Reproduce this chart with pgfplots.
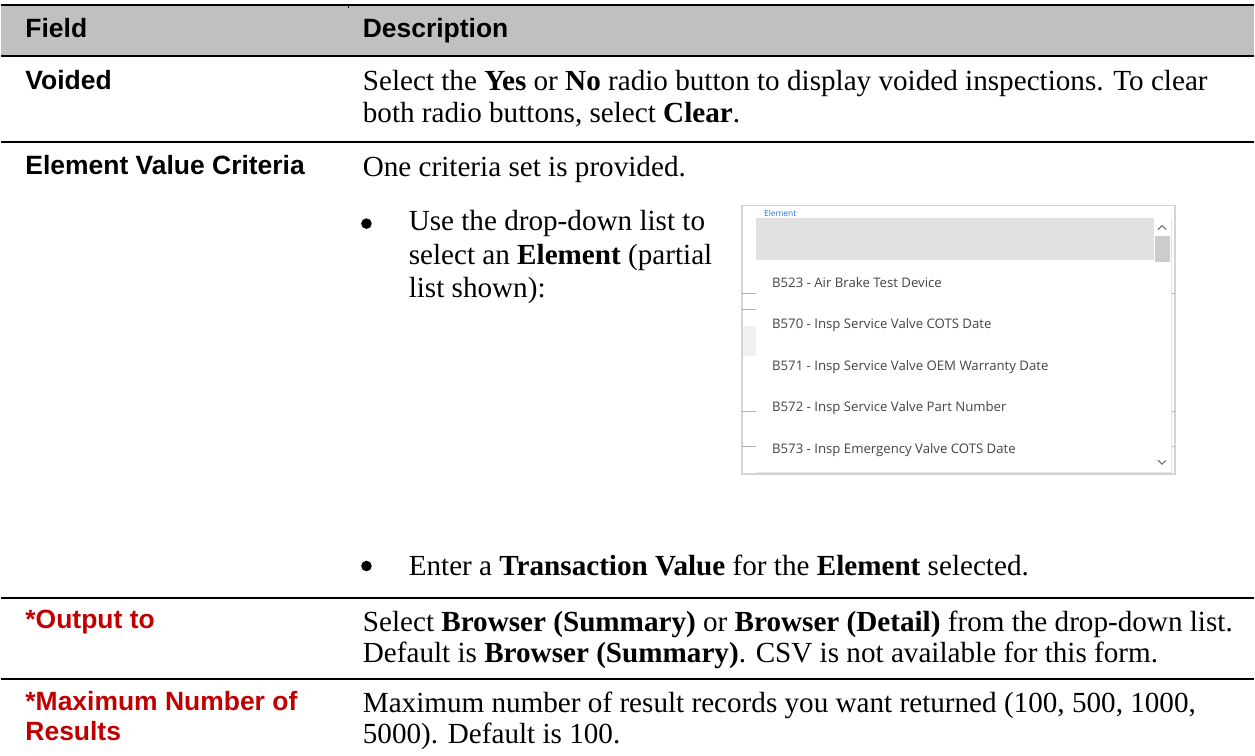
\documentclass[border=0pt]{standalone}
\usepackage{pgfplots}
\pgfplotsset{compat=1.18}
\usepackage{fontspec}
\setmainfont{Liberation Serif}
\newfontfamily\hv{Liberation Sans}
\newfontfamily\ui{Open Sans}
\definecolor{hdr}{HTML}{C0C0C0}
\definecolor{red}{HTML}{C00000}
\definecolor{band}{HTML}{E1E1E1}
\definecolor{itm}{HTML}{444444}
\definecolor{bord}{HTML}{D4D4D4}
\begin{document}
\begin{tikzpicture}
\begin{axis}[
  scale only axis, width=627.5pt, height=378.5pt,
  xmin=0, xmax=1255, ymin=0, ymax=757, y dir=reverse,
  hide axis, clip=false,
]
% background
\fill[white] (axis cs:0,0) rectangle (axis cs:1255,757);
% header band
\fill[hdr] (axis cs:0,5) rectangle (axis cs:1255,56);
\addplot[black, line width=0.6pt, forget plot] coordinates {(0,5) (1255,5)};
\addplot[black, line width=0.6pt, forget plot] coordinates {(348,5) (348,8)};
\addplot[black, line width=1.1pt, forget plot] coordinates {(0,56) (1255,56)};
\addplot[black, line width=1.1pt, forget plot] coordinates {(0,142) (1255,142)};
\addplot[black, line width=1.1pt, forget plot] coordinates {(0,599) (1255,599)};
\addplot[black, line width=1.1pt, forget plot] coordinates {(0,680.5) (1255,680.5)};

\tikzset{fld/.style={anchor=base west, inner sep=0pt, font=\hv\bfseries\fontsize{13.25pt}{16pt}\selectfont},
         dsc/.style={anchor=base west, inner sep=0pt, font=\fontsize{14.6pt}{16pt}\selectfont},
         itx/.style={anchor=base west, inner sep=0pt, text=itm, font=\ui\fontsize{6.6pt}{7pt}\selectfont},
         bgl/.style={gray!60, line width=0.4pt},
         bul/.style={circle, fill=black, inner sep=0pt, minimum size=5.3pt}}
% header
\node[fld] at (axis cs:24,37.5) {Field};
\node[fld] at (axis cs:362,37.5) {Description};
% Voided
\node[fld] at (axis cs:24,90) {Voided};
\node[dsc] at (axis cs:362,91) {Select the \textbf{Yes} or \textbf{No} radio button to display voided inspections. To clear};
\node[dsc] at (axis cs:362,123) {both radio buttons, select \textbf{Clear}.};
% Element value criteria
\node[fld] at (axis cs:24,175) {Element Value Criteria};
\node[dsc] at (axis cs:362,176.5) {One criteria set is provided.};
\node[bul] at (axis cs:366,224) {};
\node[dsc] at (axis cs:408,231) {Use the drop-down list to};
\node[dsc] at (axis cs:408,265) {select an \textbf{Element} (partial};
\node[dsc] at (axis cs:408,298.5) {list shown):};
\node[bul] at (axis cs:366,567) {};
\node[dsc] at (axis cs:408,576) {Enter a \textbf{Transaction Value} for the \textbf{Element} selected.};
% dropdown picture
\draw[bord, line width=0.7pt] (axis cs:742,206) rectangle (axis cs:1176,475);
\node[anchor=base west, inner sep=0pt, text={rgb,255:red,40;green,120;blue,230}, font=\ui\fontsize{4.2pt}{5pt}\selectfont] at (axis cs:764,217) {Element};
\fill[gray!12] (axis cs:743,327) rectangle (axis cs:756,357);
\draw[bgl] (axis cs:742,294) -- (axis cs:756,294);
\draw[bgl] (axis cs:742,310) -- (axis cs:756,310);
\draw[bgl] (axis cs:742,412) -- (axis cs:756,412);
\draw[bgl] (axis cs:742,447) -- (axis cs:756,447);
\draw[bgl] (axis cs:1172,294) -- (axis cs:1176,294);
\draw[bgl] (axis cs:1172,412) -- (axis cs:1176,412);
\draw[bgl] (axis cs:1172,447) -- (axis cs:1176,447);
\fill[black!10] (axis cs:757,219) rectangle (axis cs:1173,474);
\fill[white] (axis cs:756,218) rectangle (axis cs:1172,473);
\fill[band] (axis cs:756,218) rectangle (axis cs:1155,260);
\fill[gray!40] (axis cs:1156,236) rectangle (axis cs:1171,262);
\draw[gray!80!black, line width=0.5pt] (axis cs:1159,230) -- (axis cs:1163,226) -- (axis cs:1167,230);
\draw[gray!80!black, line width=0.5pt] (axis cs:1159,461) -- (axis cs:1163,465) -- (axis cs:1167,461);
\node[itx] at (axis cs:772,287.5) {B523 - Air Brake Test Device};
\node[itx] at (axis cs:772,329) {B570 - Insp Service Valve COTS Date};
\node[itx] at (axis cs:772,371) {B571 - Insp Service Valve OEM Warranty Date};
\node[itx] at (axis cs:772,412.5) {B572 - Insp Service Valve Part Number};
\node[itx] at (axis cs:772,454) {B573 - Insp Emergency Valve COTS Date};
% Output to
\node[fld, text=red] at (axis cs:24,630) {*Output to};
\node[dsc] at (axis cs:362,632.5) {Select \textbf{Browser (Summary)} or \textbf{Browser (Detail)} from the drop-down list.};
\node[dsc] at (axis cs:362,664) {Default is \textbf{Browser (Summary)}. CSV is not available for this form.};
% Max results
\node[fld, text=red] at (axis cs:24,711.5) {*Maximum Number of};
\node[fld, text=red] at (axis cs:24,742) {Results};
\node[dsc] at (axis cs:362,713.5) {Maximum number of result records you want returned (100, 500, 1000,};
\node[dsc] at (axis cs:362,745) {5000). Default is 100.};
\end{axis}
\end{tikzpicture}
\end{document}
